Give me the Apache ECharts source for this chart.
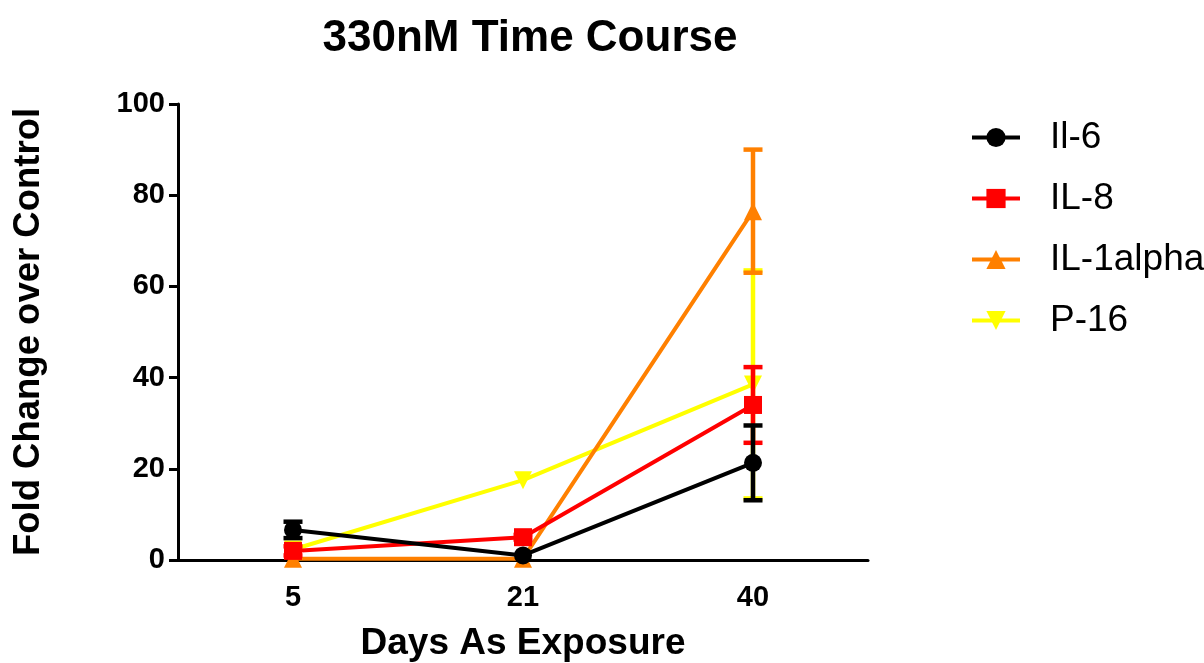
<!DOCTYPE html>
<html><head><meta charset="utf-8">
<script src="https://cdn.jsdelivr.net/npm/echarts@6/dist/echarts.min.js"></script>
<style>html,body{margin:0;padding:0;background:#fff}#c{width:1204px;height:663px}</style>
</head><body><div id="c"></div>
<script>
const categories = ['5', '21', '40'];
const seriesNames = ['Il-6', 'IL-8', 'IL-1alpha', 'P-16'];
const il6Mean = [6.6, 1.0, 21.3];
const il6Err = [1.8, 0, 8.2];
const il8Mean = [2.0, 5.0, 34.0];
const il8Err = [1.0, 0.5, 8.3];
const il1aMean = [0.3, 0.3, 76.5];
const il1aErr = [0, 0, 13.5];
const p16Mean = [2.3, 17.5, 38.5];
const p16Err = [0, 0, 25.0];
const yTicks = [0, 20, 40, 60, 80, 100];

const colors = ['#000000', '#ff0000', '#ff8000', '#ffff00'];
const symbols = ['circle', 'rect', 'triangle', 'triangle'];
const rotates = [0, 0, 0, 180];
const means = [il6Mean, il8Mean, il1aMean, p16Mean];
const errs = [il6Err, il8Err, il1aErr, p16Err];
const zs = [8, 6, 4, 2];
const font = 'Liberation Sans';

const chart = echarts.init(document.getElementById('c'));
const series = [];
seriesNames.forEach((name, i) => {
  series.push({
    name: name, type: 'line', data: means[i],
    symbol: symbols[i], symbolSize: 18, symbolRotate: rotates[i],
    lineStyle: {color: colors[i], width: 4},
    itemStyle: {color: colors[i]},
    z: zs[i] + 1, animation: false
  });
  series.push({
    name: name, type: 'custom', z: zs[i], animation: false,
    data: means[i].map((m, j) => [j, m - errs[i][j], m + errs[i][j]]),
    renderItem: function (params, api) {
      const x = api.value(0);
      const lo = api.coord([x, api.value(1)]);
      const hi = api.coord([x, api.value(2)]);
      if (Math.abs(lo[1] - hi[1]) < 1) return null;
      const w = 9.5;
      const st = {stroke: colors[i], lineWidth: 4.5};
      return {type: 'group', children: [
        {type: 'line', shape: {x1: lo[0], y1: lo[1], x2: hi[0], y2: hi[1]}, style: st},
        {type: 'line', shape: {x1: lo[0]-w, y1: lo[1], x2: lo[0]+w, y2: lo[1]}, style: st},
        {type: 'line', shape: {x1: hi[0]-w, y1: hi[1], x2: hi[0]+w, y2: hi[1]}, style: st}
      ]};
    }
  });
});

chart.setOption({
  animation: false,
  title: {text: '330nM Time Course', left: 525, top: 12, textAlign: 'center',
    textStyle: {fontFamily: font, fontWeight: 'bold', fontSize: 44, color: '#000'}},
  legend: {
    data: seriesNames, orient: 'vertical', left: 965, top: 114,
    itemWidth: 48, itemHeight: 24, itemGap: 24,
    lineStyle: {width: 4},
    textStyle: {fontFamily: font, fontSize: 37, color: '#000', padding: [0, 0, 0, 25]}
  },
  grid: {left: 178, right: 336, top: 104, bottom: 103, containLabel: false, outerBoundsMode: 'none'},
  xAxis: {
    type: 'category', data: categories, boundaryGap: true,
    name: 'Days As Exposure', nameLocation: 'middle', nameGap: 65,
    nameTextStyle: {fontFamily: font, fontWeight: 'bold', fontSize: 37, color: '#000'},
    axisLine: {lineStyle: {color: '#000', width: 3}},
    axisTick: {alignWithLabel: true, length: 7, lineStyle: {width: 3, color: '#000'}},
    axisLabel: {fontFamily: font, fontWeight: 'bold', fontSize: 29, color: '#000', margin: 23}
  },
  yAxis: {
    type: 'value', min: 0, max: 100, interval: 20,
    name: 'Fold Change over Control', nameLocation: 'middle', nameGap: 131,
    nameTextStyle: {fontFamily: font, fontWeight: 'bold', fontSize: 36.5, color: '#000'},
    axisLine: {show: true, lineStyle: {color: '#000', width: 3}},
    axisTick: {show: true, length: 9, lineStyle: {width: 3, color: '#000'}},
    splitLine: {show: false},
    axisLabel: {fontFamily: font, fontWeight: 'bold', fontSize: 29, color: '#000', margin: 13,
      formatter: v => yTicks.includes(v) ? String(v) : ''}
  },
  series: series
});
</script>
</body></html>
